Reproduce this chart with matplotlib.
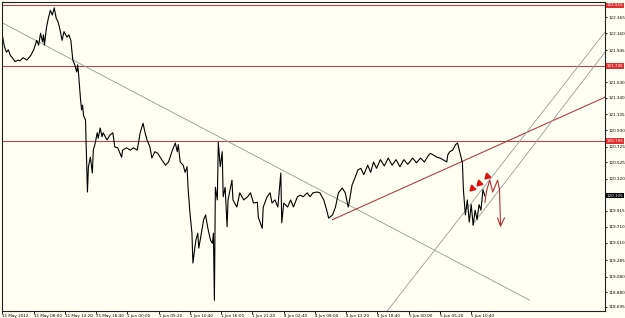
import numpy as np
import matplotlib.pyplot as plt
import matplotlib.transforms as mtransforms
from matplotlib import font_manager

# bar index (10 min bars) and close price
bars = [0, 2, 4, 6, 8, 10, 13, 16, 18, 21, 25, 29, 32, 35, 37, 39, 41, 42, 43, 45,
        47, 49, 51, 53, 55, 57, 59, 61, 63, 66, 68, 70, 72, 74, 76, 77, 78, 80, 81, 82,
        83, 85, 87, 88, 90, 92, 93, 95, 97, 98, 100, 102, 103, 107, 110, 113, 115, 118, 122, 123,
        127, 131, 134, 138, 141, 144, 146, 148, 151, 153, 156, 159, 163, 167, 170, 174, 177, 179, 180, 182,
        185, 187, 189, 190, 192, 194, 195, 198, 200, 201, 203, 206, 208, 210, 213, 215, 216, 217, 218, 220,
        221, 223, 225, 226, 228, 230, 231, 235, 236, 240, 243, 247, 251, 254, 257, 261, 262, 266, 267, 271,
        274, 276, 279, 282, 285, 286, 288, 292, 295, 298, 302, 305, 308, 312, 315, 318, 322, 325, 329, 332,
        334, 338, 341, 344, 348, 351, 354, 355, 358, 361, 364, 367, 370, 374, 377, 380, 383, 387, 391, 395,
        399, 403, 407, 411, 415, 420, 424, 428, 432, 436, 438, 441, 445, 448, 451, 455, 456, 458, 461, 464,
        466, 467, 469, 471, 472, 474, 476, 478, 480, 482, 484, 486, 488, 490, 492, 494]
close = [122.12, 121.99, 121.92, 121.95, 121.88, 121.85, 121.80, 121.82, 121.81, 121.85, 121.82, 121.88, 121.95, 122.07, 122.01, 122.16, 122.05, 122.14, 122.01, 122.23,
         122.35, 122.45, 122.39, 122.48, 122.35, 122.30, 122.20, 122.07, 122.18, 122.11, 122.14, 122.07, 121.82, 121.76, 121.67, 121.76, 121.63, 121.31, 121.19, 121.25,
         121.12, 121.06, 120.15, 120.47, 120.59, 120.39, 120.68, 120.77, 120.90, 120.83, 120.96, 120.85, 120.90, 120.81, 120.87, 120.90, 120.72, 120.71, 120.59, 120.68,
         120.71, 120.68, 120.71, 120.68, 120.90, 121.02, 120.90, 120.81, 120.72, 120.58, 120.66, 120.64, 120.56, 120.49, 120.53, 120.68, 120.77, 120.66, 120.75, 120.53,
         120.49, 120.40, 120.47, 120.21, 119.88, 119.63, 119.25, 119.54, 119.63, 119.44, 119.58, 119.80, 119.86, 119.71, 119.54, 119.50, 119.63, 118.78, 120.21, 120.05,
         120.78, 120.47, 120.66, 120.09, 120.21, 119.71, 120.05, 120.30, 120.05, 119.96, 120.14, 120.05, 120.09, 120.14, 120.01, 120.02, 119.83, 119.69, 119.96, 120.09,
         120.14, 120.01, 120.05, 119.96, 120.39, 119.76, 120.01, 119.96, 120.05, 119.96, 120.09, 120.11, 120.09, 120.14, 120.09, 120.14, 120.15, 120.14, 120.05, 119.92,
         119.82, 119.86, 119.96, 120.14, 120.20, 120.14, 119.96, 120.02, 120.24, 120.33, 120.43, 120.45, 120.37, 120.49, 120.40, 120.53, 120.45, 120.56, 120.48, 120.58,
         120.49, 120.56, 120.47, 120.56, 120.50, 120.58, 120.52, 120.58, 120.53, 120.61, 120.64, 120.62, 120.59, 120.58, 120.56, 120.53, 120.62, 120.66, 120.68, 120.75,
         120.77, 120.72, 120.62, 120.52, 120.18, 119.86, 120.05, 119.77, 119.99, 119.73, 119.92, 119.80, 119.99, 119.92, 120.18, 120.10]

# drawn objects
hlines = [122.515, 121.745, 120.795]
hline_labels = ["122.515", "121.745", "120.795"]
diag_line = ([0, 540], [122.29, 118.78])
trend_red = ([338, 617], [119.80, 121.35])
channel_1 = ([393, 617], [118.63, 122.175])
channel_2 = ([481, 617], [119.73, 121.92])
arrow_x = [481, 488, 496]
arrow_y = [120.20, 120.26, 120.35]
path_x = [494, 496, 499, 502, 505, 507, 509, 510]
path_y = [120.02, 120.18, 120.30, 120.15, 120.24, 120.30, 120.18, 119.72]
head_x = [507, 510, 514]
head_y = [119.82, 119.72, 119.82]

price_ticks = [118.695, 118.880, 119.080, 119.285, 119.510, 119.710, 119.915, 120.320, 120.525,
               120.725, 120.930, 121.135, 121.340, 121.540, 121.945, 122.160, 122.365]
last_price = 120.105

time_labels = ["31 May 2012", "31 May 08:00", "31 May 13:20", "31 May 18:40", "1 Jun 00:00",
               "1 Jun 05:20", "1 Jun 10:40", "1 Jun 16:00", "1 Jun 21:20", "4 Jun 02:40",
               "4 Jun 08:00", "4 Jun 13:20", "4 Jun 18:40", "5 Jun 00:00", "5 Jun 05:20", "5 Jun 10:40"]
time_pos = [32 * i for i in range(len(time_labels))]

names = {f.name for f in font_manager.fontManager.ttflist}
small_font = ['Liberation Sans Narrow'] if 'Liberation Sans Narrow' in names else ['DejaVu Sans']

bg = '#fffff2'
fig = plt.figure(figsize=(6.25, 3.18), dpi=100, facecolor=bg)
ax = fig.add_axes([2 / 625, 7 / 318, 603 / 625, 309 / 318], facecolor=bg)

for h in hlines:
    ax.axhline(h, color='#b04a4a', lw=0.8)
ax.plot(*diag_line, color='#8c9c8c', lw=0.6)
ax.plot(*trend_red, color='#b04040', lw=0.8)
ax.plot(*channel_1, color='#9a9a9a', lw=0.6)
ax.plot(*channel_2, color='#9a9a9a', lw=0.6)

ax.plot(bars, close, color='black', lw=0.8)

ax.plot(arrow_x, arrow_y, ls='none', marker=(3, 0, 135), ms=5, color='#e01010')
ax.plot(path_x, path_y, color='#b03030', lw=0.8)
ax.plot(head_x, head_y, color='#b03030', lw=0.8)

ax.set_xlim(-0.5, 617)
ax.set_ylim(118.644, 122.555)

ax.yaxis.tick_right()
ax.set_yticks(price_ticks)
ax.set_yticklabels([f"{p:.3f}" for p in price_ticks], family=small_font)
ax.tick_params(axis='y', length=1.5, width=0.6, pad=0.8, labelsize=3.0, colors='black')
ax.set_xticks(time_pos)
ax.set_xticklabels(time_labels, family=small_font)
ax.tick_params(axis='x', length=2, width=0.6, pad=0.5, labelsize=3.0)
for lab in ax.get_xticklabels():
    lab.set_ha('left')

for s in ax.spines.values():
    s.set_linewidth(0.8)
    s.set_color('#202020')

trans = mtransforms.blended_transform_factory(ax.transAxes, ax.transData)
for h, t in zip(hlines, hline_labels):
    ax.text(1.003, h, t, transform=trans, fontsize=3.0, family=small_font, color='white',
            va='center', ha='left', bbox=dict(boxstyle='square,pad=0.15', fc='#e03030', ec='none'))
ax.text(1.003, last_price, f"{last_price:.3f}", transform=trans, fontsize=3.0, family=small_font,
        color='white', va='center', ha='left', bbox=dict(boxstyle='square,pad=0.15', fc='black', ec='none'))

fig.savefig('out.png', dpi=100, facecolor=bg)
